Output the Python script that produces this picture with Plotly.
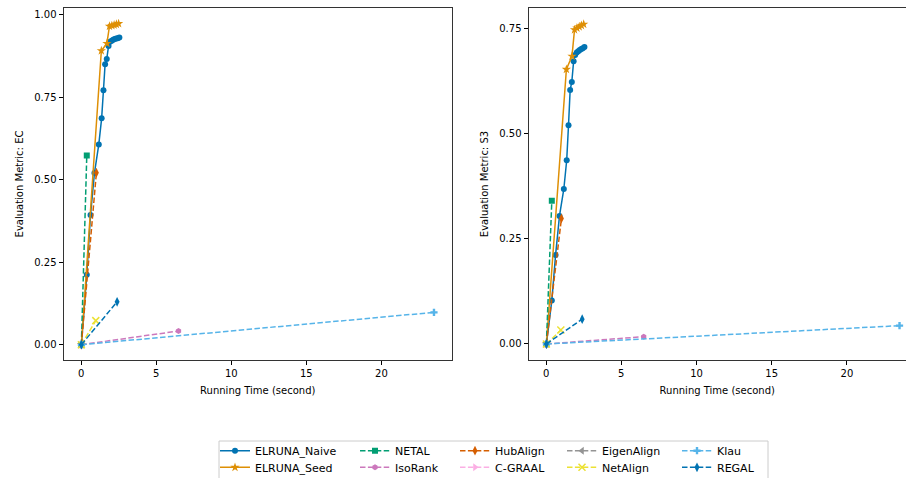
import plotly.graph_objects as go

# ---------------- data ----------------
names = ["ELRUNA_Naive", "ELRUNA_Seed", "NETAL", "IsoRank", "HubAlign",
         "C-GRAAL", "EigenAlign", "NetAlign", "Klau", "REGAL"]

naive_time = [0.02, 0.38, 0.63, 0.89, 1.18, 1.37, 1.49, 1.60, 1.71, 1.83, 1.93,
              2.04, 2.14, 2.24, 2.34, 2.44, 2.55]
naive_ec = [0.0, 0.212, 0.393, 0.52, 0.607, 0.686, 0.771, 0.850, 0.866, 0.905, 0.918,
            0.921, 0.924, 0.926, 0.928, 0.929, 0.931]
naive_s3 = [0.0, 0.103, 0.211, 0.304, 0.368, 0.436, 0.519, 0.603, 0.622, 0.671, 0.686,
            0.692, 0.695, 0.698, 0.700, 0.702, 0.705]

seed_time = [0.02, 1.35, 1.72, 1.89, 2.05, 2.20, 2.35, 2.50]
seed_ec = [0.0, 0.891, 0.913, 0.965, 0.967, 0.969, 0.971, 0.973]
seed_s3 = [0.0, 0.652, 0.683, 0.746, 0.750, 0.753, 0.756, 0.759]

netal_time = [0.02, 0.38]
netal_ec = [0.0, 0.573]
netal_s3 = [0.0, 0.340]

isorank_time = [0.02, 6.49]
isorank_ec = [0.0, 0.0415]
isorank_s3 = [0.0, 0.0174]

hubalign_time = [0.02, 1.02]
hubalign_ec = [0.0, 0.521]
hubalign_s3 = [0.0, 0.298]

cgraal_time = [0.02]
cgraal_ec = [0.0]
cgraal_s3 = [0.0]

eigen_time = [0.02]
eigen_ec = [0.0]
eigen_s3 = [0.0]

netalign_time = [0.02, 0.98]
netalign_ec = [0.0, 0.073]
netalign_s3 = [0.0, 0.033]

klau_time = [0.02, 23.5]
klau_ec = [0.0, 0.098]
klau_s3 = [0.0, 0.0435]

regal_time = [0.02, 2.40]
regal_ec = [0.0, 0.130]
regal_s3 = [0.0, 0.059]

x_ticks = [0, 5, 10, 15, 20]
ec_ticks = [0.0, 0.25, 0.5, 0.75, 1.0]
s3_ticks = [0.0, 0.25, 0.5, 0.75]

# ---------------- styles ----------------
colors = ["#0173B2", "#DE8F05", "#029E73", "#CC78BC", "#D55E00",
          "#FBAFE4", "#949494", "#ECE133", "#56B4E9", "#0173B2"]
symbols = ["circle", "star", "square", "hexagon", "diamond-tall",
           "triangle-right", "triangle-left", "x-thin", "cross", "diamond-tall"]
sizes = [6, 7, 6, 6, 7, 7, 7, 7, 6, 7]
dashes = ["solid", "solid"] + ["5.5px,2.4px"] * 8

series = [
    (naive_time, naive_ec, naive_s3),
    (seed_time, seed_ec, seed_s3),
    (netal_time, netal_ec, netal_s3),
    (isorank_time, isorank_ec, isorank_s3),
    (hubalign_time, hubalign_ec, hubalign_s3),
    (cgraal_time, cgraal_ec, cgraal_s3),
    (eigen_time, eigen_ec, eigen_s3),
    (netalign_time, netalign_ec, netalign_s3),
    (klau_time, klau_ec, klau_s3),
    (regal_time, regal_ec, regal_s3),
]

W, H = 906, 478


def px(x):
    return x / W


def py(y):
    return 1 - y / H


col_left = [215, 355, 455, 562, 677]
row_y = [450.7, 467.3]

fig = go.Figure()
legend_layouts = {}
for i, (name, (t, ec, s3)) in enumerate(zip(names, series)):
    key = "legend" if i == 0 else f"legend{i+1}"
    col, row = divmod(i, 2)
    legend_layouts[key] = dict(
        x=px(col_left[col]), y=py(row_y[row]), xanchor="left", yanchor="middle",
        bgcolor="rgba(0,0,0,0)", borderwidth=0, font=dict(size=11, color="#000"),
        orientation="v",
    )
    mk = dict(symbol=symbols[i], size=sizes[i], color=colors[i],
              line=dict(width=1.5 if symbols[i] == "x-thin" else 0, color=colors[i]))
    ln = dict(color=colors[i], width=1.5, dash=dashes[i])
    fig.add_trace(go.Scatter(x=t, y=ec, mode="lines+markers", name=name, marker=mk,
                             line=ln, legend=key, showlegend=True,
                             xaxis="x", yaxis="y"))
    fig.add_trace(go.Scatter(x=t, y=s3, mode="lines+markers", name=name, marker=mk,
                             line=ln, legend=key, showlegend=False,
                             xaxis="x2", yaxis="y2"))

axis_common = dict(showline=True, linecolor="#333", linewidth=1, mirror=True,
                   ticks="outside", ticklen=4, tickwidth=1, tickcolor="#000",
                   showgrid=False, zeroline=False,
                   tickfont=dict(size=10, color="#000"))

ydom = [py(360), py(8)]
fig.update_layout(
    width=W, height=H,
    margin=dict(l=0, r=0, t=0, b=0, autoexpand=False),
    paper_bgcolor="white", plot_bgcolor="white",
    font=dict(family="DejaVu Sans", size=10, color="#000"),
    xaxis=dict(domain=[px(63.5), px(452)], range=[-1.17, 24.7], tickvals=x_ticks,
               title=dict(text="Running Time (second)", font=dict(size=10), standoff=8),
               anchor="y", **axis_common),
    yaxis=dict(domain=ydom, range=[-0.0464, 1.0203], tickvals=ec_ticks, tickformat=".2f",
               title=dict(text="Evaluation Metric: EC", font=dict(size=10), standoff=8),
               anchor="x", **axis_common),
    xaxis2=dict(domain=[px(528.5), 1.0], range=[-1.17, 23.93], tickvals=x_ticks,
                title=dict(text="Running Time (second)", font=dict(size=10), standoff=8),
                anchor="y2", **axis_common),
    yaxis2=dict(domain=ydom, range=[-0.038, 0.7975], tickvals=s3_ticks, tickformat=".2f",
                title=dict(text="Evaluation Metric: S3", font=dict(size=10), standoff=8),
                anchor="x2", **axis_common),
    shapes=[dict(type="rect", xref="paper", yref="paper",
                 x0=px(219), x1=px(768), y0=-0.05, y1=py(441),
                 line=dict(color="#cccccc", width=1), fillcolor="white", layer="below")],
    **legend_layouts,
)

fig.write_html(
    "out.html",
    config={"displayModeBar": False},
    post_script="document.body.style.margin='0px';document.body.style.overflow='hidden';",
)
